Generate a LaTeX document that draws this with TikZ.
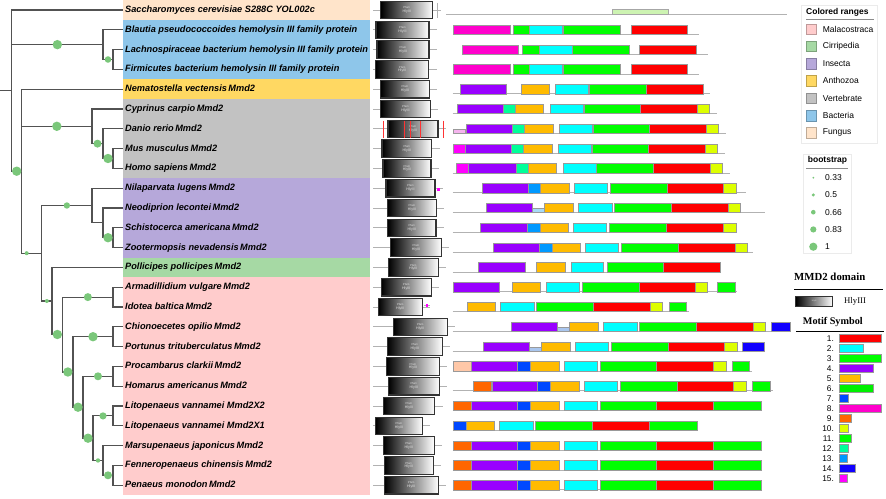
\documentclass[tikz,border=0pt]{standalone}
\usepackage{fontspec}
\setmainfont{Liberation Serif}
\setsansfont{Liberation Sans}
\usetikzlibrary{calc}
\definecolor{cFung}{HTML}{FFE4CA}
\definecolor{cBact}{HTML}{8EC6EA}
\definecolor{cAnth}{HTML}{FFD862}
\definecolor{cVert}{HTML}{C2C2C2}
\definecolor{cInse}{HTML}{B6A8DA}
\definecolor{cCirr}{HTML}{A6D9A4}
\definecolor{cMala}{HTML}{FFCCCC}
\definecolor{bootg}{HTML}{7AC77A}
\definecolor{m1}{HTML}{FF0000}
\definecolor{m2}{HTML}{00FFFF}
\definecolor{m3}{HTML}{00FF00}
\definecolor{m4}{HTML}{9900FF}
\definecolor{m5}{HTML}{FFBB00}
\definecolor{m6}{HTML}{00F000}
\definecolor{m7}{HTML}{0048FF}
\definecolor{m8}{HTML}{FF00CC}
\definecolor{m9}{HTML}{FF6600}
\definecolor{m10}{HTML}{DDFF00}
\definecolor{m11}{HTML}{00FF00}
\definecolor{m12}{HTML}{00FF99}
\definecolor{m13}{HTML}{0099FF}
\definecolor{m14}{HTML}{1100FF}
\definecolor{m15}{HTML}{FF00FF}
\definecolor{pk}{HTML}{F5B4EE}
\definecolor{lb}{HTML}{A6DAF6}
\definecolor{lbb}{HTML}{A9C6EE}
\definecolor{pch}{HTML}{FFC8A8}
\definecolor{lime}{HTML}{CDF3B2}
\tikzset{
  branch/.style={draw=black!68, line width=1.1pt},
  boot/.style={fill=bootg},
  leaf/.style={anchor=west, inner sep=2pt, text height=6.8pt, text depth=1.9pt,
    font=\sffamily\bfseries\itshape\fontsize{9.2}{11}\selectfont},
  hly/.style={draw=black!80, line width=1.1pt, left color=black, right color=white,
    minimum height=17.5pt, inner sep=0pt, align=center, text=white!88!black,
    font=\sffamily\fontsize{3.6}{3.9}\selectfont},
  mblk/.style={draw=black!40, line width=0.4pt},
  bb/.style={draw=black!30, line width=0.8pt},
  ltitle/.style={anchor=west, inner sep=0pt, font=\sffamily\bfseries\fontsize{8.5}{10}\selectfont},
  ltxt/.style={anchor=west, inner sep=0pt, font=\sffamily\fontsize{8.5}{10}\selectfont},
  stitle/.style={anchor=west, inner sep=0pt, font=\rmfamily\bfseries\fontsize{10.8}{13}\selectfont},
}
\newcommand\mrow[4]{%
  \pgfmathsetmacro\yc{10+19.8*#1}%
  \draw[bb] (#2,\yc+4.6) -- (#3,\yc+4.6);
  \foreach \a/\b/\c in {#4} \draw[mblk,fill=\c] (\a,\yc-4.8) rectangle (\b,\yc+4.6);
}
\newcommand\mthin[4]{%
  \pgfmathsetmacro\yc{10+19.8*#1}%
  \draw[mblk,fill=#4] (#2,\yc+0.6) rectangle (#3,\yc+4.6);
}
\begin{document}
\begin{tikzpicture}[x=1pt,y=-1pt]
\useasboundingbox (0,0) rectangle (886,498);
\fill[cFung] (123,0.1) rectangle (370,19.9);
\fill[cBact] (123,19.9) rectangle (370,79.3);
\fill[cAnth] (123,79.3) rectangle (370,99.1);
\fill[cVert] (123,99.1) rectangle (370,178.3);
\fill[cInse] (123,178.3) rectangle (370,257.5);
\fill[cCirr] (123,257.5) rectangle (370,277.3);
\fill[cMala] (123,277.3) rectangle (370,495.1);

\foreach \i/\t in {0/Saccharomyces cerevisiae S288C YOL002c,
  1/Blautia pseudococcoides hemolysin III family protein,
  2/Lachnospiraceae bacterium hemolysin III family protein,
  3/Firmicutes bacterium hemolysin III family protein,
  4/Nematostella vectensis\,Mmd2, 5/Cyprinus carpio\,Mmd2, 6/Danio rerio\,Mmd2,
  7/Mus musculus\,Mmd2, 8/Homo sapiens\,Mmd2, 9/Nilaparvata lugens\,Mmd2,
  10/Neodiprion lecontei\,Mmd2, 11/Schistocerca americana\,Mmd2,
  12/Zootermopsis nevadensis\,Mmd2, 13/Pollicipes pollicipes\,Mmd2,
  14/Armadillidium vulgare\,Mmd2, 15/Idotea baltica\,Mmd2,
  16/Chionoecetes opilio\,Mmd2, 17/Portunus trituberculatus\,Mmd2,
  18/Procambarus clarkii\,Mmd2, 19/Homarus americanus\,Mmd2,
  20/Litopenaeus vannamei Mmd2X2, 21/Litopenaeus vannamei Mmd2X1,
  22/Marsupenaeus japonicus\,Mmd2, 23/Fenneropenaeus chinensis\,Mmd2,
  24/Penaeus monodon\,Mmd2}
  \node[leaf] (l\i) at (123,{10+19.8*\i}) {\t};

\coordinate (r0) at (0,90.6);
\coordinate (root) at (11.7,90.6);
\coordinate (bac) at (103,44.65);
\coordinate (bacb) at (113,59.5);
\coordinate (anc) at (21.7,171.2);
\coordinate (vert) at (92,126.3);
\coordinate (verta) at (103,143.65);
\coordinate (vertb) at (113,158.5);
\coordinate (arth) at (41.7,253.2);
\coordinate (ins) at (92,205.5);
\coordinate (insa) at (103,222.85);
\coordinate (insb) at (113,237.7);
\coordinate (crus) at (52,301);
\coordinate (mala) at (62.7,334.5);
\coordinate (iso) at (113,297.1);
\coordinate (decA) at (73,372);
\coordinate (crab) at (113,336.7);
\coordinate (decB) at (83,407.2);
\coordinate (cray) at (113,376.3);
\coordinate (decC) at (93,438.2);
\coordinate (lit) at (113,415.9);
\coordinate (pen) at (103,460.45);
\coordinate (penb) at (113,475.3);

\draw[branch] (r0) -- (root);
\foreach \p/\c in {root/l0.west, root/bac, root/anc, bac/l1.west, bac/bacb,
  bacb/l2.west, bacb/l3.west, anc/l4.west, anc/vert, anc/arth, vert/l5.west,
  vert/verta, verta/l6.west, verta/vertb, vertb/l7.west, vertb/l8.west,
  arth/ins, arth/crus, ins/l9.west, ins/insa, insa/l10.west, insa/insb,
  insb/l11.west, insb/l12.west, crus/l13.west, crus/mala, mala/iso, mala/decA,
  iso/l14.west, iso/l15.west, decA/crab, decA/decB, crab/l16.west, crab/l17.west,
  decB/cray, decB/decC, cray/l18.west, cray/l19.west, decC/lit, decC/pen,
  lit/l20.west, lit/l21.west, pen/l22.west, pen/penb, penb/l23.west, penb/l24.west}
  \draw[branch] (\p) |- (\c);

\foreach \p/\c/\rr in {root/bac/4.7, bac/bacb/3.3, root/anc/4.7, anc/vert/4.7,
  vert/verta/4, verta/vertb/4.7, arth/ins/3.2, insa/insb/4.7, arth/crus/2,
  crus/mala/4.7, mala/iso/4, mala/decA/4.7, decA/crab/4.7, decA/decB/4.7,
  decB/cray/4, decB/decC/4.7, decC/lit/3.6, decC/pen/2.2, pen/penb/4}
  \fill[boot] ($(\p|-\c)!.5!(\c)$) circle (\rr pt);
\fill[boot] ($(anc|-arth)!.25!(arth)$) circle (2pt);

\foreach \i/\cx/\w in {0/406.7/52, 1/402.5/53, 2/403/52, 3/402.2/53, 4/405/48.6,
  5/405.5/49.6, 6/413/50, 7/406.8/49.7, 8/407/48, 9/410.5/49, 10/412/48.6,
  11/411.8/48.3, 12/416/50.6, 13/413.3/50, 14/406.2/50.3, 15/400.3/44,
  16/420.3/54, 17/414.8/55, 18/413/52.6, 19/413.8/51, 20/409/51.4,
  21/399/46.6, 22/408.7/50.7, 23/408.7/49.3, 24/411.2/54.3} {
  \draw[bb] (373,{10+19.8*\i}) -- ({\cx+\w/2+8},{10+19.8*\i});
  \node[hly, minimum width=\w] (d\i) at (\cx,{10+19.8*\i}) {{\fontsize{2.8}{3}\selectfont Pfam}\\HlyIII};
}
\draw[bb] (437.7,3) -- (437.7,18);
\foreach \x in {383.3,404,410,420,443}
  \draw[red!80, line width=0.5pt] (\x,120.7) -- (\x,138.3);
\fill[m15] (437,188) rectangle (439.6,190.6);
\draw[bb] (424,305.3) -- (430,305.3);
\fill[m15] (425.8,304) rectangle (428.3,306.6);

\draw[bb] (446,14.3) -- (786.7,14.3);
\draw[draw=black!35, line width=0.4pt, fill=lime] (611.7,9.3) rectangle (667.7,14.3);
\mrow{1}{452.7}{699.3}{452.7/510/m8, 512.7/529.3/m11, 529.3/562.3/m2, 563.3/619.7/m3, 630.7/687/m1}
\mrow{2}{461.7}{708.3}{461.7/518.3/m8, 521.7/538.7/m11, 538.7/571.7/m2, 572.3/628.7/m3, 639.3/696/m1}
\mrow{3}{452.7}{699.3}{452.7/510/m8, 512.7/529.3/m11, 529.3/562.3/m2, 563.3/619.7/m3, 630.7/687/m1}
\mrow{4}{452.7}{710}{460/506/m4, 521/549.3/m5, 555/587.7/m2, 588.7/645.7/m3, 646.3/702.7/m1}
\mrow{5}{452.7}{717.3}{456.7/502.7/m4, 502.7/515.3/m12, 515.3/543.3/m5, 550.3/583/m2, 583.7/640.3/m3, 640.3/697.3/m1, 697.3/709.3/m10}
\mrow{6}{452.7}{726}{465.7/512.3/m4, 512.3/524.3/m12, 524.3/552.7/m5, 559.3/592/m2, 592.7/649.3/m3, 649.3/706/m1, 706/718.3/m10}
\mthin{6}{453.3}{465}{pk}
\mrow{7}{452.7}{725}{452.7/465/m15, 465/511/m4, 511/523.3/m12, 523.3/551.7/m5, 558.3/591/m2, 591.7/648.3/m3, 648.3/705/m1, 705/717.3/m10}
\mrow{8}{452.7}{730}{456/468.3/m15, 468.3/515.7/m4, 515.7/528/m12, 528/556/m5, 562.7/595.7/m2, 596.3/653/m3, 653/710/m1, 710/722/m10}
\mrow{9}{452.7}{745.7}{481.7/528.3/m4, 528.3/540.3/m13, 540.3/568.7/m5, 574/606.7/m2, 610/666.7/m3, 666.7/723.3/m1, 723.3/735.7/m10}
\mrow{10}{452.7}{765}{486/532.3/m4, 544.3/573.3/m5, 578.3/611.7/m2, 614.3/671/m3, 671/728/m1, 728/740/m10}
\mthin{10}{532.3}{544.3}{lb}
\mrow{11}{452.7}{735.7}{480/527/m4, 527/539.7/m13, 539.7/567.7/m5, 573/605.7/m2, 609/665.7/m3, 665.7/723.3/m1, 723.3/735.7/m10}
\mrow{12}{452.7}{752.7}{492.7/539.3/m4, 539.3/551.7/m13, 551.7/579.7/m5, 585.3/618.3/m2, 621/678.3/m3, 678.3/734.7/m1, 734.7/746.7/m10}
\mrow{13}{452.7}{720}{478/524.7/m4, 536/565/m5, 570.7/603.3/m2, 606.7/663.3/m3, 663.3/720/m1}
\mrow{14}{452.7}{736.7}{452.7/499.3/m4, 512/540.3/m5, 546/578.7/m2, 582/638.7/m3, 638.7/695.3/m1, 695.3/707.3/m10, 717.3/734.7/m11}
\mrow{15}{452.7}{689.3}{466.7/495.3/m5, 500.3/533.7/m2, 536.3/593.3/m3, 593.3/650/m1, 650/662.3/m10, 669/686/m11}
\mrow{16}{452.7}{790}{511/557.3/m4, 569.3/598/m5, 603.3/636.7/m2, 639/696/m3, 696/752.7/m1, 752.7/765/m10, 770.7/790/m14}
\mthin{16}{557.3}{569.3}{lbb}
\mrow{17}{452.7}{764.3}{482.7/529/m4, 541.3/569.7/m5, 575.3/608.3/m2, 611/668/m3, 668/724.3/m1, 724.3/736.7/m10, 742.3/764.3/m14}
\mthin{17}{529}{541.3}{lbb}
\mrow{18}{452.7}{751.7}{452.7/470.7/pch, 470.7/517.3/m4, 517.3/530.3/m7, 530.3/558.7/m5, 563.7/596.7/m2, 600/656.3/m3, 656.3/713.3/m1, 713.3/725.7/m10, 732/749/m11}
\mrow{19}{452.7}{773.3}{473.3/490.7/m9, 491.7/537.3/m4, 537.3/550.3/m7, 550.3/579/m5, 584/617.3/m2, 620/676.7/m3, 676.7/733.3/m1, 733.3/746/m10, 752.3/769.7/m11}
\foreach \rw in {20,22,23,24} {
  \mrow{\rw}{452.7}{760.7}{452.7/470.7/m9, 470.7/517.3/m4, 517.3/530.3/m7, 530.3/558.7/m5, 563.7/596.7/m2, 600/656.3/m3, 656.3/713.3/m1, 713.3/760.7/m3}
}
\mrow{21}{452.7}{696.7}{452.7/466/m7, 466/494/m5, 499.3/532.7/m2, 535.3/592/m3, 592/649/m1, 649/696.7/m3}

\draw[black!8] (800.7,5) rectangle (876.7,143.3);
\node[ltitle] (crt) at (806,12.3) {Colored ranges};
\draw[black!45, line width=0.6pt] (806,19.5) -- (874,19.5);
\foreach \i/\c/\t in {0/cMala/Malacostraca, 1/cCirr/Cirripedia, 2/cInse/Insecta,
  3/cAnth/Anthozoa, 4/cVert/Vertebrate, 5/cBact/Bacteria, 6/cFung/Fungus} {
  \node[draw=\c!75!black, fill=\c, minimum size=10.5pt, inner sep=0pt] (cr\i) at (811.2,{29+17.3*\i}) {};
  \node[ltxt] (crl\i) at (822.7,{29+17.3*\i}) {\t};
}
\draw[black!8] (802.7,154) rectangle (850.7,253);
\node[ltitle] (bst) at (807.7,160.7) {bootstrap};
\draw[black!45, line width=0.6pt] (806,168) -- (848,168);
\foreach \i/\rr/\t in {0/1/0.33, 1/1.7/0.5, 2/2.3/0.66, 3/3.1/0.83, 4/4.1/1} {
  \fill[boot] (813.3,{177.7+17.25*\i}) circle (\rr pt);
  \node[ltxt] (bsl\i) at (825,{177.7+17.25*\i}) {\t};
}

\node[stitle] (mmdt) at (794,277.3) {MMD2 domain};
\draw[black, line width=0.8pt] (794,289) -- (883.3,289);
\node[hly, minimum width=37pt, minimum height=10pt, line width=0.8pt] (mmdb) at (814.2,301) {{\fontsize{2}{2.2}\selectfont HlyIII}};
\node[anchor=west, inner sep=0pt, font=\rmfamily\fontsize{8.7}{10}\selectfont] (mmdl) at (844,301) {HlyIII};
\node[stitle, font=\rmfamily\bfseries\fontsize{10.2}{12}\selectfont] (mst) at (802.7,321.7) {Motif Symbol};
\draw[black, line width=0.8pt] (796,331) -- (884.3,331);
\foreach \k/\w in {1/42, 2/24, 3/42, 4/34, 5/21, 6/34, 7/9, 8/42, 9/12.3, 10/9,
  11/12.3, 12/9, 13/8.3, 14/15.7, 15/8.3} {
  \node[anchor=east, inner sep=0pt, font=\sffamily\fontsize{8.3}{10}\selectfont] (mn\k) at (834,{338.3+10*(\k-1)}) {\k.};
  \draw[mblk, fill=m\k] (839.3,{338.3+10*(\k-1)-4}) rectangle ({839.3+\w},{338.3+10*(\k-1)+4});
}
\end{tikzpicture}
\end{document}
